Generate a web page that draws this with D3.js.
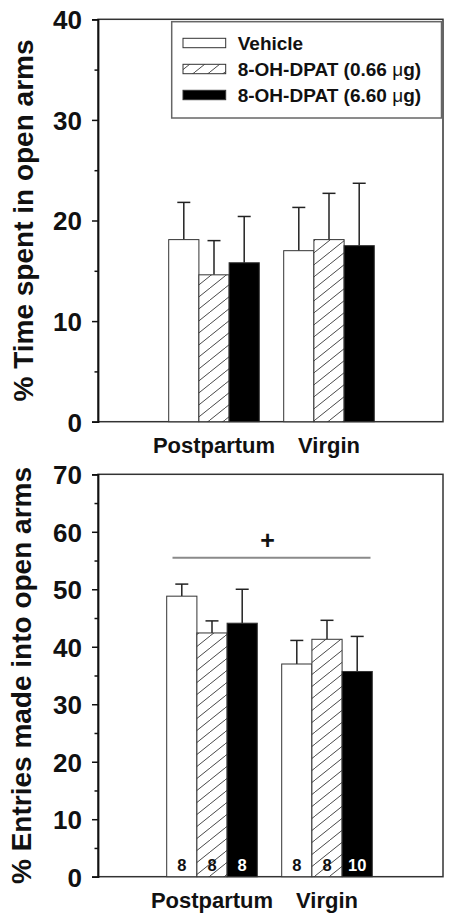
<!DOCTYPE html>
<html>
<head>
<meta charset="utf-8">
<script src="https://cdn.jsdelivr.net/npm/d3@7/dist/d3.min.js"></script>
<style>
  html, body { margin: 0; padding: 0; background: #fff; }
  svg { display: block; }
  text { font-family: "Liberation Sans", Arial, Helvetica, sans-serif; font-weight: bold; fill: #111; }
</style>
</head>
<body>
<script>
// ---------------- data ----------------
const groups = ["Postpartum", "Virgin"];
const treatments = ["Vehicle", "8-OH-DPAT (0.66 μg)", "8-OH-DPAT (6.60 μg)"];

// % time spent in open arms (mean, SEM) per group x treatment
const timeMean = [[18.1, 14.6, 15.8], [17.0, 18.1, 17.5]];
const timeSem  = [[3.7, 3.4, 4.6], [4.3, 4.6, 6.2]];

// % entries made into open arms (mean, SEM)
const entryMean = [[48.8, 42.4, 44.1], [37.0, 41.3, 35.7]];
const entrySem  = [[2.1, 2.1, 5.9], [4.1, 3.3, 6.1]];

// sample sizes
const nSizes = [[8, 8, 8], [8, 8, 10]];

// tick values
const timeTicks = [0, 10, 20, 30, 40];
const timeMinor = [5, 15, 25, 35];
const entryTicks = [0, 10, 20, 30, 40, 50, 60, 70];
const entryMinor = [5, 15, 25, 35, 45, 55, 65];

// significance annotation on bottom panel
const sigValue = 55.5;
const sigPlusValue = 58.6;
const sigLabel = "+";

// ---------------- drawing ----------------
const W = 454, H = 923;
const svg = d3.select("body").append("svg").attr("width", W).attr("height", H);

const defs = svg.append("defs");
const pat = defs.append("pattern").attr("id", "hatch")
  .attr("patternUnits", "userSpaceOnUse").attr("width", 15).attr("height", 12);
pat.append("rect").attr("width", 15).attr("height", 12).attr("fill", "#fff");
pat.append("line").attr("x1", -1.5).attr("y1", 13.2).attr("x2", 16.5).attr("y2", -1.2)
  .attr("stroke", "#333").attr("stroke-width", 0.9);

const fills = ["#fff", "url(#hatch)", "#000"];

const left = 98, right = 443;
const xGroup = d3.scalePoint().domain(groups).range([left, right]).padding(1);
const xInner = d3.scaleBand().domain(treatments).range([-45.3, 45.3]);

function panel(opts) {
  const { top, bottom, max, ticks, minor, means, sems, title, titleX, catY, showN, dx } = opts;
  const y = d3.scaleLinear().domain([0, max]).range([bottom, top]);
  const g = svg.append("g");

  // frame
  g.append("rect").attr("x", left).attr("y", top).attr("width", right - left).attr("height", bottom - top)
    .attr("fill", "none").attr("stroke", "#333").attr("stroke-width", 1.5);

  // bars
  groups.forEach((grp, gi) => {
    treatments.forEach((tr, ti) => {
      const x0 = xGroup(grp) + dx + xInner(tr);
      const bw = xInner.bandwidth();
      const m = means[gi][ti], s = sems[gi][ti];
      const cx = x0 + bw / 2;
      g.append("line").attr("x1", cx).attr("x2", cx).attr("y1", y(m)).attr("y2", y(m + s))
        .attr("stroke", "#222").attr("stroke-width", 1.5);
      g.append("line").attr("x1", cx - 6.5).attr("x2", cx + 6.5).attr("y1", y(m + s)).attr("y2", y(m + s))
        .attr("stroke", "#222").attr("stroke-width", 1.5);
      g.append("rect").attr("x", x0).attr("y", y(m)).attr("width", bw).attr("height", y(0) - y(m))
        .attr("fill", fills[ti]).attr("stroke", "#333").attr("stroke-width", 1);
      if (showN) {
        g.append("text").attr("x", cx).attr("y", bottom - 5.5).attr("text-anchor", "middle")
          .style("font-size", "16.5px").style("fill", ti === 2 ? "#fff" : "#111")
          .text(nSizes[gi][ti]);
      }
    });
  });

  // y axis
  const axis = d3.axisLeft(y).tickValues(ticks).tickSize(6).tickPadding(10).tickFormat(d3.format("d"));
  const ax = g.append("g").attr("transform", `translate(${left},0)`).call(axis);
  ax.attr("font-family", null).attr("font-size", null);
  ax.select(".domain").attr("stroke", "#111").attr("stroke-width", 1.8);
  ax.selectAll(".tick line").attr("stroke", "#111").attr("stroke-width", 1.5);
  ax.selectAll(".tick text").style("font-size", "26px").style("font-weight", "bold")
    .attr("dy", "0.36em").attr("x", -16).attr("fill", "#111");
  const axm = d3.axisLeft(y).tickValues(minor).tickSize(3.5).tickFormat("");
  const axm2 = g.append("g").attr("transform", `translate(${left},0)`).call(axm);
  axm2.select(".domain").remove();
  axm2.selectAll(".tick line").attr("stroke", "#111").attr("stroke-width", 1.5);

  // y title
  g.append("text").attr("transform", `translate(${titleX},${(top + bottom) / 2}) rotate(-90)`)
    .attr("text-anchor", "middle").style("font-size", "28px").text(title);

  // category labels
  groups.forEach(grp => {
    g.append("text").attr("x", xGroup(grp) + dx).attr("y", catY).attr("text-anchor", "middle")
      .style("font-size", "22px").text(grp);
  });
  return y;
}

const yTop = panel({ top: 19.3, bottom: 421.7, max: 40, ticks: timeTicks, minor: timeMinor,
  means: timeMean, sems: timeSem, title: "% Time spent in open arms", titleX: 33, catY: 453.3, showN: false, dx: 1 });

const yBot = panel({ top: 474.3, bottom: 876.7, max: 70, ticks: entryTicks, minor: entryMinor,
  means: entryMean, sems: entrySem, title: "% Entries made into open arms", titleX: 31, catY: 908.3, showN: true, dx: -1 });

// significance line
svg.append("line").attr("x1", xGroup(groups[0]) - 40.5).attr("x2", xGroup(groups[1]) + 42.5)
  .attr("y1", yBot(sigValue)).attr("y2", yBot(sigValue)).attr("stroke", "#8a8a8a").attr("stroke-width", 2);
svg.append("text").attr("x", 267.5).attr("y", yBot(sigPlusValue)).attr("dy", "0.36em")
  .attr("text-anchor", "middle").style("font-size", "25px").text(sigLabel);

// legend
const lg = svg.append("g");
lg.append("rect").attr("x", 171.7).attr("y", 21.7).attr("width", 269.8).attr("height", 96.3)
  .attr("fill", "#fff").attr("stroke", "#666").attr("stroke-width", 1.5);
const rowY = d3.scalePoint().domain(treatments).range([43, 95]);
treatments.forEach((tr, i) => {
  const cy = rowY(tr);
  lg.append("rect").attr("x", 183).attr("y", cy - 4.7).attr("width", 42.7).attr("height", 9.4)
    .attr("fill", fills[i]).attr("stroke", "#333").attr("stroke-width", 1);
  const t = lg.append("text").attr("x", 237.7).attr("y", cy).attr("dy", "0.36em").style("font-size", "19px");
  const parts = tr.split("μ");
  t.append("tspan").text(parts[0]);
  if (parts.length > 1) {
    t.append("tspan").style("font-weight", "normal").text("μ");
    t.append("tspan").text(parts[1]);
  }
});
</script>
</body>
</html>
